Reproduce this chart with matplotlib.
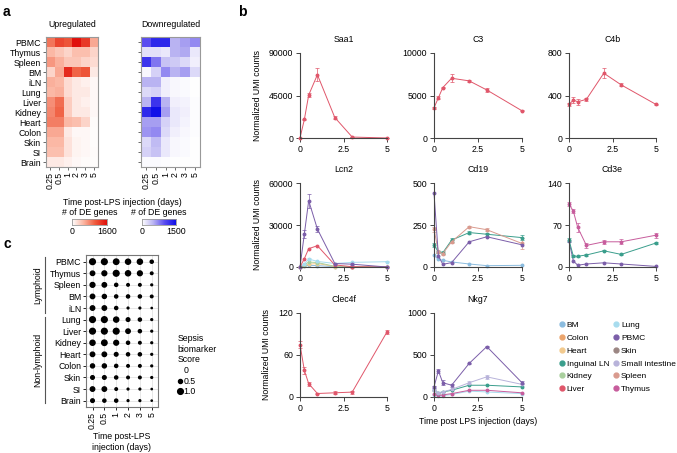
import numpy as np
import matplotlib
matplotlib.use('Agg')
import matplotlib.pyplot as plt
from matplotlib.colors import LinearSegmentedColormap
from matplotlib.lines import Line2D

plt.rcParams['font.family'] = ['Liberation Sans', 'DejaVu Sans']
FS = 6.3
plt.rcParams['font.size'] = FS

# --- Daten ---
tissues = ['PBMC', 'Thymus', 'Spleen', 'BM', 'iLN', 'Lung', 'Liver', 'Kidney',
           'Heart', 'Colon', 'Skin', 'SI', 'Brain']
timeLabels = ['0.25', '0.5', '1', '2', '3', '5']

upGenes = [[900, 1200, 1100, 1600, 1300, 600],
           [500, 400, 300, 450, 450, 300],
           [700, 550, 400, 400, 300, 250],
           [300, 600, 1400, 1000, 1100, 150],
           [550, 500, 250, 150, 100, 50],
           [500, 550, 250, 150, 150, 50],
           [750, 950, 350, 150, 100, 50],
           [800, 1000, 350, 150, 150, 50],
           [850, 850, 500, 450, 300, 30],
           [600, 600, 150, 50, 50, 20],
           [500, 500, 200, 80, 50, 20],
           [450, 450, 200, 80, 50, 30],
           [150, 150, 100, 50, 30, 20]]

downGenes = [[1000, 1300, 1300, 500, 600, 700],
             [200, 200, 150, 500, 550, 150],
             [1200, 800, 400, 350, 250, 100],
             [50, 300, 700, 500, 600, 250],
             [500, 500, 100, 50, 30, 10],
             [250, 300, 100, 50, 30, 10],
             [500, 1200, 500, 100, 80, 20],
             [1300, 1500, 600, 150, 100, 20],
             [600, 600, 300, 150, 80, 20],
             [650, 700, 250, 100, 50, 20],
             [250, 450, 150, 50, 30, 10],
             [300, 400, 150, 50, 30, 10],
             [30, 30, 20, 10, 10, 10]]

sepsisScore = [[1.0, 1.0, 0.9, 0.8, 0.8, 0.3],
               [0.6, 0.7, 1.0, 0.8, 0.7, 0.2],
               [0.7, 0.6, 0.3, 0.2, 0.2, 0.1],
               [0.6, 0.5, 0.3, 0.3, 0.3, 0.2],
               [0.6, 0.6, 0.3, 0.1, 0.1, 0.05],
               [1.0, 1.0, 0.8, 0.4, 0.3, 0.1],
               [1.0, 1.0, 1.0, 0.6, 0.3, 0.1],
               [0.8, 0.9, 0.7, 0.3, 0.2, 0.1],
               [0.6, 0.6, 0.4, 0.3, 0.3, 0.1],
               [0.5, 0.5, 0.3, 0.2, 0.2, 0.1],
               [0.4, 0.4, 0.3, 0.2, 0.2, 0.1],
               [0.6, 0.6, 0.2, 0.1, 0.1, 0.05],
               [0.4, 0.3, 0.3, 0.1, 0.1, 0.05]]

days = [0, 0.25, 0.5, 1, 2, 3, 5]

saa1Liver = [0, 19600, 45500, 67000, 21700, 1000, 0]
saa1LiverErr = [0, 1000, 2500, 7000, 1500, 300, 0]
c3Liver = [3550, 4740, 5930, 7030, 6720, 5650, 3200]
c3LiverErr = [150, 150, 100, 500, 150, 200, 50]
c4bLiver = [316, 357, 341, 364, 610, 500, 316]
c4bLiverErr = [12, 25, 30, 15, 45, 15, 5]

lcn2PBMC = [0, 23600, 47400, 27100, 2500, 2000, 0]
lcn2PBMCErr = [0, 3000, 5000, 2000, 300, 300, 0]
lcn2Liver = [0, 6000, 13100, 15200, 1500, 200, 0]
lcn2Lung = [0, 2000, 5700, 4000, 2500, 3300, 3800]
lcn2LungErr = [0, 500, 1000, 500, 200, 300, 200]
lcn2Kidney = [0, 1500, 3500, 3200, 500, 200, 100]
lcn2Heart = [0, 1000, 2000, 2500, 300, 100, 50]
lcn2BM = [0, 500, 1200, 1000, 200, 100, 0]

cd19PBMC = [440, 66, 16, 26, 150, 180, 132]
cd19Spleen = [225, 92, 80, 150, 240, 222, 140]
cd19SpleenErr = [15, 8, 10, 8, 5, 10, 30]
cd19ILN = [130, 90, 85, 160, 205, 195, 175]
cd19ILNErr = [10, 8, 8, 10, 8, 10, 15]
cd19BM = [70, 45, 40, 30, 18, 8, 10]

cd3eThymus = [105, 93, 66, 36, 42, 42, 53]
cd3eThymusErr = [3, 3, 7, 4, 3, 4, 4]
cd3eILN = [45, 18, 18, 20, 27, 21, 40]
cd3eILNErr = [3, 2, 1, 1, 1, 1, 2]
cd3ePBMC = [43, 10, 3, 5, 7, 5, 1]

nkg7PBMC = [120, 310, 170, 140, 400, 600, 170]
nkg7PBMCErr = [15, 20, 30, 20, 10, 10, 20]
nkg7SI = [80, 50, 60, 90, 170, 240, 150]
nkg7SIErr = [10, 5, 5, 10, 20, 25, 20]
nkg7ILN = [80, 50, 60, 80, 140, 140, 120]
nkg7Thymus = [30, 20, 25, 40, 80, 80, 50]
nkg7Lung = [20, 15, 15, 30, 70, 60, 40]

clec4fLiver = [75, 38, 19, 5, 6, 7, 93]
clec4fLiverErr = [5, 5, 3, 1, 2, 2, 3]

legendTissues = ['BM', 'Colon', 'Heart', 'Inguinal LN', 'Kidney', 'Liver',
                 'Lung', 'PBMC', 'Skin', 'Small intestine', 'Spleen', 'Thymus']
tissueColors = ['#8bbcdf', '#eba46c', '#f2ca8e', '#3a9e8c', '#a9cf9d', '#e0566a',
                '#a7dcee', '#7b5ea9', '#9b8683', '#b8b3da', '#d99a8e', '#c75c9c']
colorOf = dict(zip(legendTissues, tissueColors))

W, H = 677, 453
fig = plt.figure(figsize=(W / 100, H / 100), dpi=100)


def axPx(left, top, right, bottom):
    return fig.add_axes([left / W, 1 - bottom / H, (right - left) / W, (bottom - top) / H])


def figText(x, y, s, **kw):
    fig.text(x / W, 1 - y / H, s, **kw)


# --- Panel a: Heatmaps ---
redMap = LinearSegmentedColormap.from_list('up', ['#ffffff', '#fbb4a0', '#ef5a3c', '#e0100c'])
blueMap = LinearSegmentedColormap.from_list('down', ['#ffffff', '#b9b3f2', '#5a4cf0', '#1010e8'])

for left, right, data, cmap, vmax, title, showLabels in [
        (46, 98, upGenes, redMap, 1600, 'Upregulated', True),
        (141, 200, downGenes, blueMap, 1500, 'Downregulated', False)]:
    ax = axPx(left, 37, right, 167)
    ax.imshow(np.array(data), cmap=cmap, vmin=0, vmax=vmax, aspect='auto', interpolation='nearest')
    ax.set_xticks(range(len(timeLabels)))
    ax.set_xticklabels(timeLabels, rotation=90)
    ax.set_yticks(range(len(tissues)))
    ax.set_yticklabels(tissues if showLabels else [])
    ax.tick_params(length=2.5, width=0.6, pad=1, color='#555555')
    ax.set_title(title, fontsize=FS, pad=7)
    for s in ax.spines.values():
        s.set_color('#999999')
        s.set_linewidth(0.8)

figText(122, 202, 'Time post-LPS injection (days)', ha='center', va='center')

for left, right, cmap, vmax in [(72, 107, redMap, 1600), (142, 176, blueMap, 1500)]:
    cax = axPx(left, 219, right, 225)
    cax.imshow(np.linspace(0, vmax, 100)[None, :], cmap=cmap, aspect='auto',
               extent=[0, vmax, 0, 1])
    cax.set_yticks([])
    cax.set_xticks([0, vmax])
    cax.set_xticklabels(['0', str(vmax)])
    cax.tick_params(length=0, pad=1.5)
    for s in cax.spines.values():
        s.set_color('#999999')
        s.set_linewidth(0.6)
    cax.set_title('# of DE genes', fontsize=FS, pad=3)

# --- Panel c: Dotplot ---
axDot = axPx(86, 255, 158, 407)
scoreArr = np.array(sepsisScore)
xx, yy = np.meshgrid(np.arange(len(timeLabels)), np.arange(len(tissues)))
for i in range(len(timeLabels)):
    axDot.axvline(i, color='#dddddd', lw=0.5, zorder=0)
for j in range(len(tissues)):
    axDot.axhline(j, color='#dddddd', lw=0.5, zorder=0)
axDot.scatter(xx.ravel(), yy.ravel(), s=scoreArr.ravel() * 17, color='black', zorder=2)
axDot.set_xlim(-0.55, 5.53)
axDot.set_ylim(len(tissues) - 0.45, -0.58)
axDot.set_xticks(range(len(timeLabels)))
axDot.set_xticklabels(timeLabels, rotation=90)
axDot.set_yticks(range(len(tissues)))
axDot.set_yticklabels(tissues)
axDot.tick_params(length=2.5, width=0.6, pad=1)
for s in axDot.spines.values():
    s.set_color('#777777')
    s.set_linewidth(0.8)
figText(122, 442, 'Time post-LPS\ninjection (days)', ha='center', va='center', linespacing=1.3)

fig.add_artist(Line2D([45 / W, 45 / W], [1 - 257 / H, 1 - 313 / H], color='#555555', lw=0.8))
fig.add_artist(Line2D([45 / W, 45 / W], [1 - 317 / H, 1 - 403 / H], color='#555555', lw=0.8))
figText(38, 285, 'Lymphoid', rotation=90, ha='center', va='center')
figText(38, 360, 'Non-lymphoid', rotation=90, ha='center', va='center')

sizeHandles = [Line2D([], [], ls='none', marker='o', color='black', markersize=np.sqrt(v * 17))
               for v in [0, 0.5, 1.0]]
leg = fig.legend(sizeHandles, ['0', '0.5', '1.0'], loc='upper left',
                 bbox_to_anchor=(173 / W, 1 - 330 / H), frameon=False,
                 title='Sepsis\nbiomarker\nScore', title_fontsize=FS, fontsize=FS,
                 handlelength=0.6, handletextpad=0.1, labelspacing=0.2,
                 alignment='left', borderpad=0)

# --- Panel b: Liniendiagramme ---
colX = [(300, 387), (434, 522), (569, 656)]
rowY = [(53, 138), (183, 267), (313, 397)]

panels = [
    ('Saa1', 90000, [('Liver', saa1Liver, saa1LiverErr)]),
    ('C3', 10000, [('Liver', c3Liver, c3LiverErr)]),
    ('C4b', 800, [('Liver', c4bLiver, c4bLiverErr)]),
    ('Lcn2', 60000, [('BM', lcn2BM, None), ('Heart', lcn2Heart, None),
                     ('Kidney', lcn2Kidney, None), ('Lung', lcn2Lung, lcn2LungErr),
                     ('Liver', lcn2Liver, None), ('PBMC', lcn2PBMC, lcn2PBMCErr)]),
    ('Cd19', 500, [('BM', cd19BM, None), ('Inguinal LN', cd19ILN, cd19ILNErr),
                   ('Spleen', cd19Spleen, cd19SpleenErr), ('PBMC', cd19PBMC, None)]),
    ('Cd3e', 140, [('PBMC', cd3ePBMC, None), ('Inguinal LN', cd3eILN, cd3eILNErr),
                   ('Thymus', cd3eThymus, cd3eThymusErr)]),
    ('Clec4f', 120, [('Liver', clec4fLiver, clec4fLiverErr)]),
    ('Nkg7', 1000, [('Lung', nkg7Lung, None), ('Thymus', nkg7Thymus, None),
                    ('Inguinal LN', nkg7ILN, None), ('Small intestine', nkg7SI, nkg7SIErr),
                    ('PBMC', nkg7PBMC, nkg7PBMCErr)]),
]

for k, (gene, ymax, series) in enumerate(panels):
    r, c = divmod(k, 3)
    ax = axPx(colX[c][0], rowY[r][0], colX[c][1], rowY[r][1])
    for tissue, vals, err in series:
        col = colorOf[tissue]
        ax.errorbar(days, vals, yerr=err, color=col, lw=0.7, marker='o', ms=1.8,
                    elinewidth=0.5, capsize=1.5, capthick=0.5, clip_on=False)
    ax.set_xlim(0, 5)
    ax.set_ylim(0, ymax)
    ax.set_xticks([0, 2.5, 5])
    ax.set_xticklabels(['0', '2.5', '5'])
    ax.set_yticks([0, ymax / 2, ymax])
    ax.set_yticklabels([f'{int(v)}' for v in [0, ymax / 2, ymax]])
    ax.spines['top'].set_visible(False)
    ax.spines['right'].set_visible(False)
    for s in ['left', 'bottom']:
        ax.spines[s].set_color('#444444')
        ax.spines[s].set_linewidth(0.8)
    ax.tick_params(length=3, width=0.7, pad=2, color='#444444')
    ax.set_title(gene, fontsize=FS, pad=8)
    if c == 0:
        ax.set_ylabel('Normalized UMI counts', fontsize=FS, labelpad=5)

figText(478, 422, 'Time post LPS injection (days)', ha='center', va='center')

lineHandles = [Line2D([], [], ls='none', marker='o', ms=3.5, color=col) for col in tissueColors]
fig.legend(lineHandles, legendTissues, ncol=2, loc='upper left',
           bbox_to_anchor=(556 / W, 1 - 317 / H), frameon=False, fontsize=6,
           handlelength=0.5, handletextpad=0.3, columnspacing=0.6, labelspacing=0.6,
           borderpad=0)

# Panel-Buchstaben
figText(3, 12, 'a', fontsize=10, fontweight='bold', va='center')
figText(238, 12, 'b', fontsize=10, fontweight='bold', va='center')
figText(3, 244, 'c', fontsize=10, fontweight='bold', va='center')

fig.savefig('out.png', dpi=100)
